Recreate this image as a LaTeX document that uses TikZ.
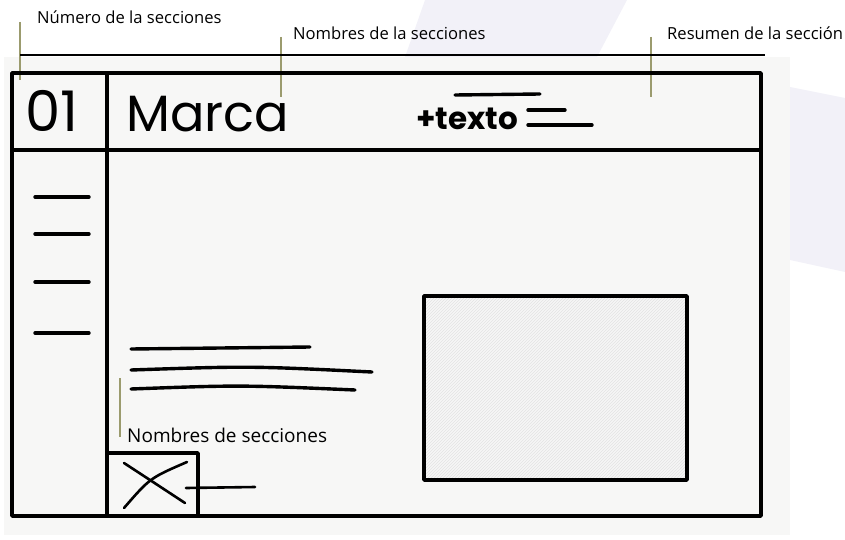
\documentclass[tikz,border=0pt]{standalone}
\usepackage{fontspec}
\setmainfont{Open Sans}
\newfontfamily\sketchfont{Poppins}
\usetikzlibrary{positioning, patterns}
\definecolor{leaf}{RGB}{155,155,110}
\definecolor{paper}{RGB}{247,247,246}
\definecolor{lilac}{RGB}{242,241,248}

\begin{document}
\begin{tikzpicture}[
    x=1pt, y=-1pt,
    frame/.style={line width=3.8pt, line join=round},
    stroke/.style={line width=3.4pt, line cap=round},
    leader/.style={draw=leaf, line width=1.8pt},
    note/.style={font=\fontsize{16.6}{19}\selectfont, inner sep=0pt, anchor=west},
    hand/.style={font=\sketchfont\fontsize{51}{58}\selectfont, inner sep=0pt, anchor=base west}
  ]
  \useasboundingbox (0,0) rectangle (845,540);
  % faint shapes behind the sheet
  \fill[lilac] (425,0) -- (627,0) -- (597,57) -- (405,57) -- cycle;
  \fill[lilac] (790,87) -- (845,98) -- (845,272) -- (790,260) -- cycle;
  \fill[paper] (4,57) rectangle (790,535);

  % annotations
  \node[note] (numlabel) at (37,17) {Número de la secciones};
  \node[note] (namelabel) at (293,33) {Nombres de la secciones};
  \node[note] (sumlabel) at (667,33) {Resumen de la sección};
  \node[note, font=\fontsize{19}{22}\selectfont] (seclabel) at (127,435) {Nombres de secciones};
  \draw[leader] (20,22) -- (20,80);
  \draw[leader] (281,37) -- (281,97);
  \draw[leader] (651,37) -- (651,97);
  \draw[leader] (120,378) -- (120,437);

  % sheet
  \draw[line width=2.2pt] (20,55) -- (765,55);
  \draw[frame] (12,73) rectangle (761,516);
  \draw[frame] (12,150) -- (761,150);
  \draw[frame] (107,73) -- (107,516);

  % header
  \node[hand, font=\sketchfont\fontsize{56}{60}\selectfont] (number) at (25,132) {01};
  \node[hand] (brand) at (126,132) {Marca};
  \node[hand, font=\sketchfont\bfseries\fontsize{31}{34}\selectfont] (extra) at (416,130) {+texto};
  \draw[stroke] (455,95) -- (540,94);
  \draw[stroke] (528,110) -- (565,110);
  \draw[stroke] (528,125) -- (592,125);

  % side menu
  \foreach \y in {197,234,282,333}
    \draw[stroke] (35,\y) -- (89,\y);

  % body text lines
  \draw[stroke] (131,349) -- (310,347);
  \draw[stroke] (131,370) .. controls (250,366) .. (372,372);
  \draw[stroke] (131,389) .. controls (240,385) .. (355,390);

  % image placeholder
  \fill[gray!7] (424,296) rectangle (687,480);
  \fill[pattern=north east lines, pattern color=gray!22] (424,296) rectangle (687,480);
  \draw[frame] (424,296) rectangle (687,480);

  % close button
  \draw[frame] (108,453) -- (198,453) -- (198,516);
  \draw[line width=2.6pt, line cap=round] (124,508) .. controls (150,478) .. (187,462);
  \draw[line width=2.6pt, line cap=round] (124,463) .. controls (150,480) .. (185,503);
  \draw[line width=2.6pt, line cap=round] (186,488) -- (255,487);
\end{tikzpicture}
\end{document}
